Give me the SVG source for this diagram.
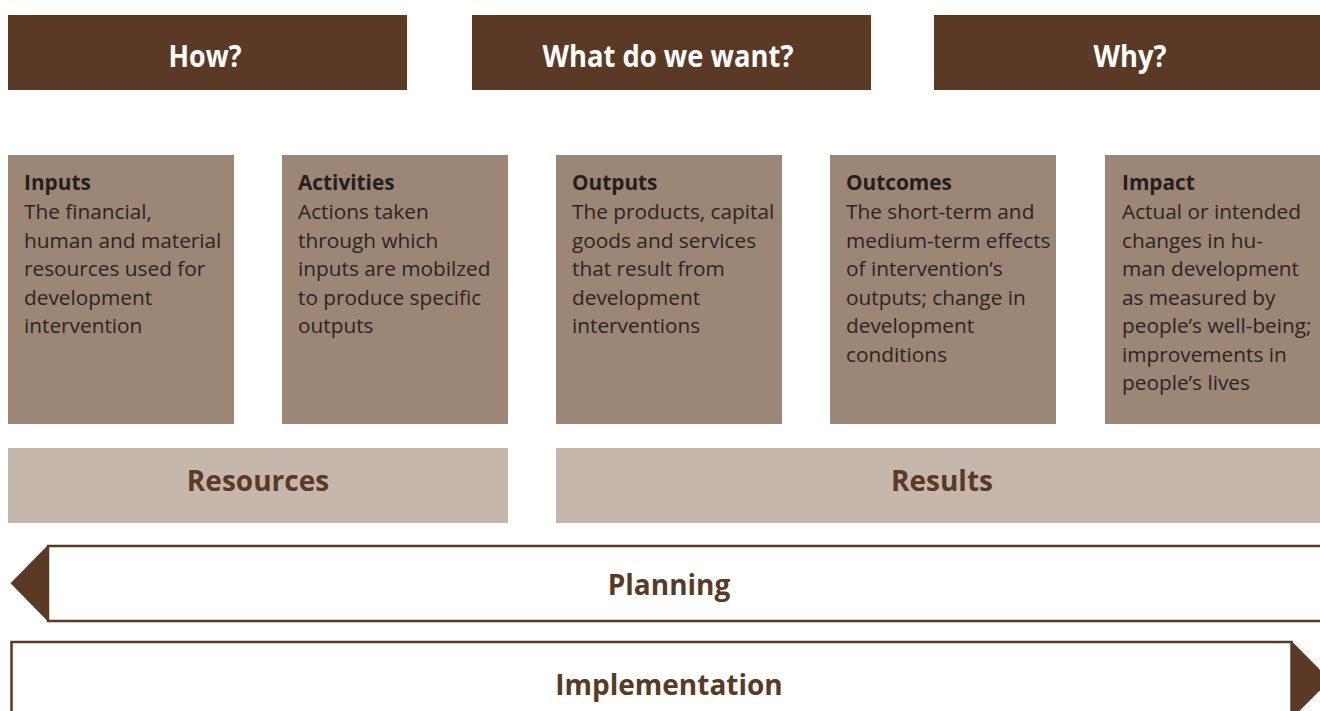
<svg xmlns="http://www.w3.org/2000/svg" width="1320" height="711" viewBox="0 0 1320 711">
  <style>
    .hdr { fill: #5a3a25; }
    .hdr-t { fill: #ffffff; font-family: "Open Sans", "Noto Sans", sans-serif; font-weight: 700; font-size: 31px; text-anchor: middle; }
    .box { fill: #9c8675; }
    .ttl { fill: #231f1e; font-family: "Open Sans", "Noto Sans", sans-serif; font-weight: 700; font-size: 20.8px; }
    .txt { fill: #2b2523; font-family: "Open Sans", "Noto Sans", sans-serif; font-size: 20.8px; }
    .band { fill: #c6b7ad; }
    .band-t { fill: #5a3a25; font-family: "Open Sans", "Noto Sans", sans-serif; font-weight: 700; font-size: 28px; text-anchor: middle; }
    .frame { fill: #ffffff; stroke: #5a3a25; stroke-width: 2.5; }
    .tip { fill: #5a3a25; }
  </style>

  <!-- question headers -->
  <g id="how">
    <rect class="hdr" x="8" y="15" width="399" height="75"/>
    <text class="hdr-t" x="205" y="67" textLength="73" lengthAdjust="spacingAndGlyphs">How?</text>
  </g>
  <g id="what">
    <rect class="hdr" x="472" y="15" width="399" height="75"/>
    <text class="hdr-t" x="668" y="67" textLength="251" lengthAdjust="spacingAndGlyphs">What do we want?</text>
  </g>
  <g id="why">
    <rect class="hdr" x="934" y="15" width="386" height="75"/>
    <text class="hdr-t" x="1130" y="67" textLength="73" lengthAdjust="spacingAndGlyphs">Why?</text>
  </g>

  <!-- results-chain stages -->
  <g id="inputs">
    <rect class="box" x="8" y="155" width="226" height="269"/>
    <text class="ttl" x="24" y="190">Inputs</text>
    <text class="txt">
      <tspan x="24" y="219">The financial,</tspan>
      <tspan x="24" y="247.5">human and material</tspan>
      <tspan x="24" y="276">resources used for</tspan>
      <tspan x="24" y="304.5">development</tspan>
      <tspan x="24" y="333">intervention</tspan>
    </text>
  </g>
  <g id="activities">
    <rect class="box" x="282" y="155" width="226" height="269"/>
    <text class="ttl" x="298" y="190">Activities</text>
    <text class="txt">
      <tspan x="298" y="219">Actions taken</tspan>
      <tspan x="298" y="247.5">through which</tspan>
      <tspan x="298" y="276">inputs are mobilzed</tspan>
      <tspan x="298" y="304.5">to produce specific</tspan>
      <tspan x="298" y="333">outputs</tspan>
    </text>
  </g>
  <g id="outputs">
    <rect class="box" x="556" y="155" width="226" height="269"/>
    <text class="ttl" x="572" y="190">Outputs</text>
    <text class="txt">
      <tspan x="572" y="219">The products, capital</tspan>
      <tspan x="572" y="247.5">goods and services</tspan>
      <tspan x="572" y="276">that result from</tspan>
      <tspan x="572" y="304.5">development</tspan>
      <tspan x="572" y="333">interventions</tspan>
    </text>
  </g>
  <g id="outcomes">
    <rect class="box" x="830" y="155" width="226" height="269"/>
    <text class="ttl" x="846" y="190">Outcomes</text>
    <text class="txt">
      <tspan x="846" y="219">The short-term and</tspan>
      <tspan x="846" y="247.5">medium-term effects</tspan>
      <tspan x="846" y="276">of intervention’s</tspan>
      <tspan x="846" y="304.5">outputs; change in</tspan>
      <tspan x="846" y="333">development</tspan>
      <tspan x="846" y="361.5">conditions</tspan>
    </text>
  </g>
  <g id="impact">
    <rect class="box" x="1105" y="155" width="215" height="269"/>
    <text class="ttl" x="1122" y="190">Impact</text>
    <text class="txt">
      <tspan x="1122" y="219">Actual or intended</tspan>
      <tspan x="1122" y="247.5">changes in hu-</tspan>
      <tspan x="1122" y="276">man development</tspan>
      <tspan x="1122" y="304.5">as measured by</tspan>
      <tspan x="1122" y="333">people’s well-being;</tspan>
      <tspan x="1122" y="361.5">improvements in</tspan>
      <tspan x="1122" y="390">people’s lives</tspan>
    </text>
  </g>

  <!-- grouping bands -->
  <g id="resources">
    <rect class="band" x="8" y="448" width="500" height="75"/>
    <text class="band-t" x="258" y="491">Resources</text>
  </g>
  <g id="results">
    <rect class="band" x="556" y="448" width="764" height="75"/>
    <text class="band-t" x="942" y="491">Results</text>
  </g>

  <!-- direction arrows -->
  <g id="planning">
    <rect class="frame" x="48" y="546" width="1290" height="75"/>
    <polygon class="tip" points="48,545 48,621.5 10.5,583.3"/>
    <text class="band-t" x="669" y="595">Planning</text>
  </g>
  <g id="implementation">
    <rect class="frame" x="11.5" y="642" width="1280" height="90"/>
    <polygon class="tip" points="1291.5,641 1291.5,719 1330,680"/>
    <text class="band-t" x="669" y="695">Implementation</text>
  </g>
</svg>
